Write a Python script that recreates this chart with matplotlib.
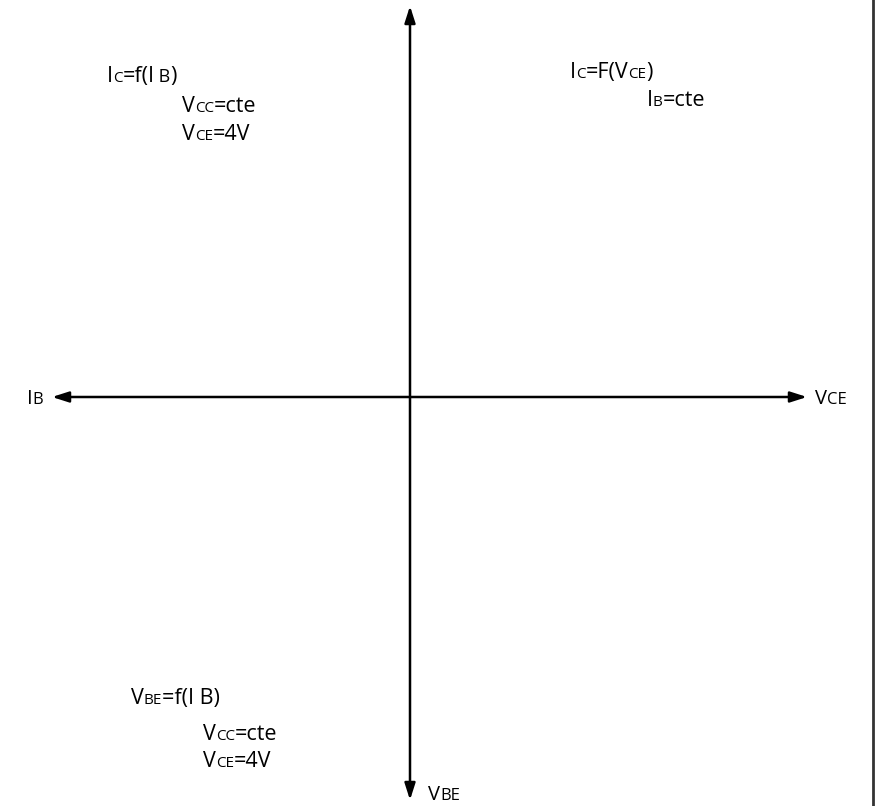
import matplotlib
matplotlib.use("Agg")
import matplotlib.pyplot as plt

FONT = ["Open Sans", "DejaVu Sans"]
BIG = 15.5
SMALL = 11

# quadrant notes: list of lines, each line is a list of (text, size) pieces
notes_top_left = [
    [("I", BIG), ("C", SMALL), ("=f(I", BIG), (" B", SMALL + 2), (")", BIG)],
    [("V", BIG), ("CC", SMALL), ("=cte", BIG)],
    [("V", BIG), ("CE", SMALL), ("=4V", BIG)],
]
notes_top_right = [
    [("I", BIG), ("C", SMALL), ("=F(V", BIG), ("CE", SMALL), (")", BIG)],
    [("I", BIG), ("B", SMALL), ("=cte", BIG)],
]
notes_bottom_left = [
    [("V", BIG), ("BE", SMALL), ("=f(I B)", BIG)],
    [("V", BIG), ("CC", SMALL), ("=cte", BIG)],
    [("V", BIG), ("CE", SMALL), ("=4V", BIG)],
]
axis_labels = {
    "left": [("I", BIG - 1), ("B", SMALL + 1)],
    "right": [("V", BIG - 1), ("CE", SMALL + 1)],
    "bottom": [("V", BIG - 1), ("BE", SMALL + 1)],
}

W, H = 875, 806
fig = plt.figure(figsize=(W / 100, H / 100), dpi=100)
ax = fig.add_axes([0, 0, 1, 1])
ax.set_xlim(0, W)
ax.set_ylim(H, 0)
ax.axis("off")
renderer = fig.canvas.get_renderer()


def rich_text(x, y, parts):
    for s, size in parts:
        t = ax.text(x, y, s, fontsize=size, family=FONT, va="baseline", ha="left")
        x += t.get_window_extent(renderer).width


def note_block(x0, y0, lines, indent, gaps):
    y = y0
    for i, parts in enumerate(lines):
        rich_text(x0 + (indent if i else 0), y, parts)
        if i < len(gaps):
            y += gaps[i]


arrow = dict(arrowstyle="<|-|>,head_length=0.5,head_width=0.16",
             color="black", lw=1.8, shrinkA=0, shrinkB=0, mutation_scale=20)
# axes crossing at (410, 397)
ax.annotate("", xy=(410, 6), xytext=(410, 800), arrowprops=arrow)
ax.annotate("", xy=(52, 397), xytext=(807, 397), arrowprops=arrow)

# frame line on the right edge
ax.plot([873, 873], [0, H], color="#333333", lw=2)

rich_text(27, 404, axis_labels["left"])
rich_text(815, 404, axis_labels["right"])
rich_text(428, 800, axis_labels["bottom"])

note_block(107, 82, notes_top_left, 75, [30, 28])
note_block(570, 78, notes_top_right, 77, [28])
note_block(131, 704, notes_bottom_left, 72, [36, 27])

fig.savefig("out.png", dpi=100, facecolor="white")
